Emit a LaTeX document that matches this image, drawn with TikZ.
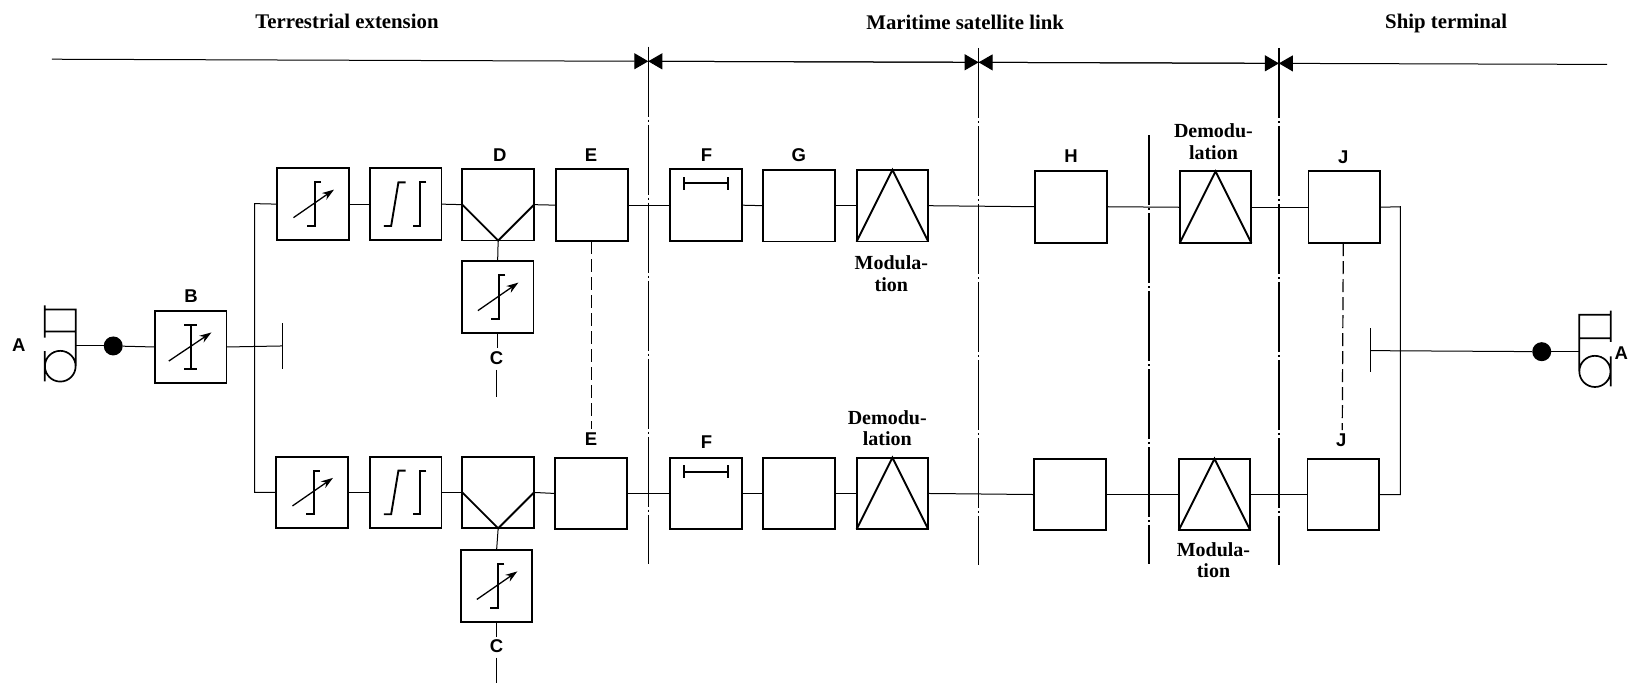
\documentclass[tikz,border=0pt]{standalone}
\usepackage{fontspec}
\setmainfont{Liberation Serif}
\newfontfamily\lettersf{Liberation Sans}
\usetikzlibrary{arrows.meta}
\tikzset{
 blk/.style={draw,line width=1.9pt,inner sep=0pt,outer sep=0pt,minimum width=71.7pt,minimum height=71.7pt},
 wire/.style={line width=1pt},
 sym/.style={line width=1.9pt},
 title/.style={font=\fontsize{20.8}{23}\selectfont\bfseries,inner sep=0pt},
 word/.style={font=\fontsize{20}{21.5}\selectfont\bfseries,align=center,inner sep=0pt},
 letter/.style={font=\lettersf\fontsize{18.5}{20}\selectfont\bfseries,inner sep=0pt},
 dimline/.style={line width=1pt,-{Triangle[length=14pt,width=16pt]}},
 bound/.style={line width=1.2pt,dash pattern=on 70pt off 3pt on 2pt off 3pt},
 link/.style={line width=1.2pt,dash pattern=on 13pt off 5pt},
 amparrow/.style={line width=1.3pt,-{Stealth[length=12pt,width=8pt]}},
 phone/.style={line width=1.7pt},
 ampsym/.pic={\draw[sym] (7.5,-21) -- (1.5,-21) -- (1.5,21) -- (-6,21);
   \draw[amparrow] (-19,13) -- (20,-14);},
 limsym/.pic={\draw[sym] (0,-21) -- (-7,-21) -- (-14,21) -- (-21,21);
   \draw[sym] (20,-21) -- (14,-21) -- (14,21) -- (7,21);},
 gainsym/.pic={\draw[sym] (-6,-21.5) -- (6,-21.5) (0,-21.5) -- (0,21.5) (-6,21.5) -- (6,21.5);
   \draw[amparrow] (-21,13.5) -- (20,-14);},
 barsym/.pic={\draw[sym] (-21,-27) -- (-21,-15) (-21,-21) -- (21,-21) (21,-27) -- (21,-15);},
}
\newcommand{\veemark}[1]{\draw[sym] (#1.west) -- (#1.south) -- (#1.east);}
\newcommand{\trimark}[1]{\draw[sym] (#1.south west) -- (#1.north) -- (#1.south east);}
\begin{document}
\begin{tikzpicture}[x=1.039pt,y=-1.039pt]
\useasboundingbox (0,0) rectangle (1568,657);
\clip (0,0) rectangle (1568,657);
% top row
\node[blk] (a1) at (301.5,196.5) {};
\node[blk] (b1) at (390.5,196.5) {};
\node[blk] (d1) at (479.5,197) {};
\node[blk] (e1) at (570,197.5) {};
\node[blk] (f1) at (679.5,197.5) {};
\node[blk] (g1) at (769,198) {};
\node[blk] (m1) at (859,198) {};
\node[blk] (h1) at (1031,199) {};
\node[blk] (q1) at (1170,199.5) {};
\node[blk] (j1) at (1294,199.5) {};
\node[blk] (s1) at (479,286) {};
\node[blk] (bb) at (183.5,334) {};
% bottom row
\node[blk] (a2) at (300.5,474) {};
\node[blk] (b2) at (390.5,474) {};
\node[blk] (d2) at (479.5,474) {};
\node[blk] (e2) at (569,475) {};
\node[blk] (f2) at (679.5,475) {};
\node[blk] (g2) at (769,475) {};
\node[blk] (m2) at (859,475) {};
\node[blk] (h2) at (1030,476) {};
\node[blk] (q2) at (1169,476) {};
\node[blk] (j2) at (1293,476) {};
\node[blk] (s2) at (478,564) {};
% symbols
\pic at (a1) {ampsym}; \pic at (a2) {ampsym}; \pic at (s1) {ampsym}; \pic at (s2) {ampsym};
\pic at (b1) {limsym}; \pic at (b2) {limsym};
\pic at (bb) {gainsym};
\pic at (f1) {barsym}; \pic at (f2) {barsym};
\veemark{d1} \veemark{d2}
\trimark{m1} \trimark{q1} \trimark{m2} \trimark{q2}
% chain wires
\foreach \p/\n in {a1/b1,b1/d1,d1/e1,e1/f1,f1/g1,g1/m1,m1/h1,h1/q1,q1/j1,
                   a2/b2,b2/d2,d2/e2,e2/f2,f2/g2,g2/m2,m2/h2,h2/q2,q2/j2}
  \draw[wire] (\p.east) -- (\n.west);
\draw[wire] (d1.south) -- (s1.north);
\draw[wire] (d2.south) -- (s2.north);
% left side
\coordinate (busT) at (245,196);
\coordinate (busB) at (245,474);
\draw[wire,line cap=rect] (a1.west) -- (busT) -- (busB) -- (a2.west);
\coordinate (teeL) at (272,333);
\draw[wire] (bb.east) -- (teeL);
\draw[line width=1.2pt] (272,311) -- (272,355);
\node[circle,fill=black,inner sep=0pt,minimum size=19pt] (dotL) at (109,333) {};
\coordinate (phoneL) at (73,333);
\draw[wire] (phoneL) -- (dotL);
\draw[wire] (dotL) -- (bb.west);
\draw[phone] (43,294) -- (43,325) (43,298) -- (73,298) -- (73,352.5) (43,319) -- (73,319)
  (43,338) -- (43,367) (58,352.5) circle[radius=14.8];
% right side
\coordinate (busR1) at (1348,199);
\coordinate (busR2) at (1348,476);
\draw[wire] (j1.east) -- (busR1) -- (busR2) -- (j2.east);
\coordinate (teeR) at (1319,337.5);
\node[circle,fill=black,inner sep=0pt,minimum size=19pt] (dotR) at (1484,338.5) {};
\coordinate (phoneR) at (1520,338.5);
\draw[wire] (teeR) -- (dotR);
\draw[wire] (dotR) -- (phoneR);
\draw[line width=1.2pt] (1319,316) -- (1319,358);
\draw[phone] (1550.5,299) -- (1550.5,329) (1550.5,303) -- (1520,303) -- (1520,357.5) (1520,325.5) -- (1550.5,325.5)
  (1550.5,343) -- (1550.5,372) (1535.2,357.5) circle[radius=15];
% C stubs
\coordinate (c1a) at (479,335); \coordinate (c1b) at (478,356); \coordinate (c1c) at (478,382);
\draw[wire] (s1.south) -- (c1a); \draw[wire] (c1b) -- (c1c);
\coordinate (c2a) at (478,613); \coordinate (c2b) at (478,633); \coordinate (c2c) at (478,657);
\draw[wire] (s2.south) -- (c2a); \draw[wire] (c2b) -- (c2c);
% dashed links
\coordinate (el) at (569,413);
\draw[link] (569,232) -- (el);
\coordinate (jl) at (1292,414);
\draw[link] (1293,234) -- (jl);
% boundaries
\draw[bound] (624,45) -- (624,543);
\draw[bound] (942,46) -- (942,544);
\draw[bound] (1231,46) -- (1231,544);
\draw[bound] (1106,130) -- (1106,543);
% top dimension line
\coordinate (t0) at (50,57);
\coordinate (t1) at (624,59);
\coordinate (t2) at (942,60);
\coordinate (t3) at (1231,61);
\coordinate (t4) at (1547,62);
\draw[dimline] (t0) -- (t1);
\draw[dimline] (t2) -- (t1);
\draw[dimline] (t1) -- (t2);
\draw[dimline] (t3) -- (t2);
\draw[dimline] (t2) -- (t3);
\draw[dimline] (t4) -- (t3);
% titles
\node[title] (tt1) at (334,21) {Terrestrial extension};
\node[title] (tt2) at (929,22) {Maritime satellite link};
\node[title] (tt3) at (1392,23) {Ship terminal};
% letters
\node[letter] (lA1) at (18,332) {A};
\node[letter] (lB) at (184,285) {B};
\node[letter] (lD) at (481,149) {D};
\node[letter] (lE1) at (569,149) {E};
\node[letter] (lF1) at (680,149) {F};
\node[letter] (lG) at (769,149) {G};
\node[letter] (lH) at (1031,150) {H};
\node[letter] (lJ1) at (1293,151) {J};
\node[letter] (lC1) at (478,345) {C};
\node[letter] (lE2) at (569,423) {E};
\node[letter] (lF2) at (680,426) {F};
\node[letter] (lJ2) at (1291,424) {J};
\node[letter] (lC2) at (478,622) {C};
\node[letter] (lA2) at (1560.5,340) {A};
% words
\node[word] (w1) at (858,263.5) {Modula-\\tion};
\node[word] (w2) at (1168,136.5) {Demodu-\\lation};
\node[word] (w3) at (854,412) {Demodu-\\lation};
\node[word] (w4) at (1168,539) {Modula-\\tion};
\end{tikzpicture}
\end{document}
